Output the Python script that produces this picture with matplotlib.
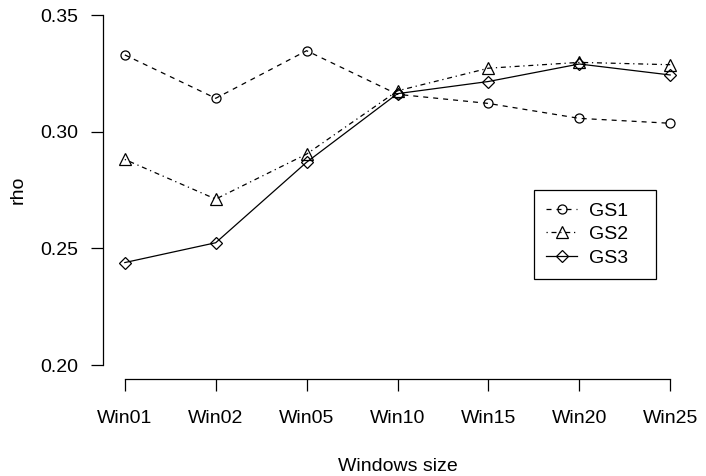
"""Rho against window size for the three gold standards."""

import matplotlib
matplotlib.use('Agg')
import matplotlib.pyplot as plt

plt.rcParams['font.family'] = ['Liberation Sans', 'DejaVu Sans']

WINDOWS = ['Win01', 'Win02', 'Win05', 'Win10', 'Win15', 'Win20', 'Win25']
GS1 = [0.3329, 0.3143, 0.3347, 0.3160, 0.3121, 0.3057, 0.3036]
GS2 = [0.2881, 0.2711, 0.2904, 0.3175, 0.3272, 0.3297, 0.3287]
GS3 = [0.2439, 0.2524, 0.2869, 0.3163, 0.3215, 0.3290, 0.3243]
Y_TICKS = [0.20, 0.25, 0.30, 0.35]

FS = 14
LW = 0.9

fig = plt.figure(figsize=(7.06, 4.76), dpi=100)
ax = fig.add_axes([103 / 706, 1 - 379 / 476, (692 - 103) / 706, 378 / 476])

xs = list(range(1, len(WINDOWS) + 1))
ax.plot(xs, GS1, color='black', lw=LW, ls=(0, (4, 4)), marker='o', ms=6.5,
        mfc='none', mec='black', mew=LW, label='GS1')
ax.plot(xs, GS2, color='black', lw=LW, ls=(0, (1, 3, 4, 3)), marker='^', ms=8,
        mfc='none', mec='black', mew=LW, label='GS2')
ax.plot(xs, GS3, color='black', lw=LW, ls='-', marker='D', ms=6.5,
        mfc='none', mec='black', mew=LW, label='GS3')

# R-like axes: 4% padding, detached spines
ax.set_xlim(1 - 0.24, len(WINDOWS) + 0.24)
ax.set_ylim(0.194, 0.356)
for side in ('top', 'right'):
    ax.spines[side].set_visible(False)
ax.spines['left'].set_bounds(Y_TICKS[0], Y_TICKS[-1])
ax.spines['bottom'].set_bounds(xs[0], xs[-1])
for side in ('left', 'bottom'):
    ax.spines[side].set_linewidth(LW)

ax.set_xticks(xs)
ax.set_xticklabels(WINDOWS)
ax.set_yticks(Y_TICKS)
ax.set_yticklabels([f'{t:.2f}' for t in Y_TICKS])
ax.tick_params(axis='both', length=8.6, width=LW, labelsize=FS, direction='out')
ax.tick_params(axis='x', pad=14)
ax.tick_params(axis='y', pad=9)

ax.set_xlabel('Windows size', fontsize=FS, labelpad=22)
ax.set_ylabel('rho', fontsize=FS, labelpad=10)

leg_w = (656 - 534) / 589
leg = ax.legend(loc='upper left', bbox_to_anchor=((534 - 103) / 589, 0.5, leg_w, 0),
                mode='expand', fontsize=FS,
                frameon=True, fancybox=False, framealpha=1, edgecolor='black',
                borderpad=0.62, labelspacing=0.3, handlelength=1.6,
                handletextpad=0.6, borderaxespad=0)
leg.get_frame().set_linewidth(LW)

fig.savefig('out.png', dpi=100)
